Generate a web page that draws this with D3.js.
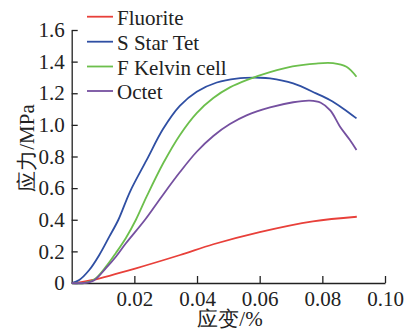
<!DOCTYPE html>
<html>
<head>
<meta charset="utf-8">
<script src="https://cdn.jsdelivr.net/npm/d3@7"></script>
</head>
<body style="margin:0">
<script>
var width = 408
var height = 330
var margin = {left: 71.7, right: 23, top: 30, bottom: 47}

// Data (strain, stress)
var seriesNames = ["Fluorite", "S Star Tet", "F Kelvin cell", "Octet"]
var seriesColors = ["#e8403a", "#2f4fa3", "#6cbf4c", "#7550a0"]

var fluorite = [[0, 0], [0.003, 0.005], [0.0067, 0.019], [0.0205, 0.093], [0.0346, 0.177],
  [0.0452, 0.245], [0.060, 0.322], [0.077, 0.39], [0.091, 0.419]]
var sStarTet = [[0, 0], [0.0024, 0.019], [0.0056, 0.082], [0.0088, 0.177], [0.012, 0.293],
  [0.0149, 0.40], [0.0186, 0.577], [0.0239, 0.777], [0.0292, 0.975], [0.0345, 1.12],
  [0.0399, 1.21], [0.0463, 1.268], [0.0526, 1.293], [0.060, 1.298], [0.0633, 1.294],
  [0.0707, 1.262], [0.078, 1.199], [0.0824, 1.157], [0.0866, 1.104], [0.0909, 1.041]]
var fKelvin = [[0, 0], [0.004, 0.0], [0.0072, 0.022], [0.011, 0.105], [0.0141, 0.19],
  [0.0173, 0.285], [0.0205, 0.40], [0.0239, 0.546], [0.0292, 0.757], [0.0345, 0.935],
  [0.0399, 1.075], [0.0452, 1.17], [0.0505, 1.237], [0.0558, 1.283], [0.0633, 1.333],
  [0.0705, 1.37], [0.078, 1.388], [0.0834, 1.39], [0.0877, 1.367], [0.0909, 1.304]]
var octet = [[0, 0], [0.004, 0], [0.0072, 0.018], [0.011, 0.095], [0.0141, 0.166],
  [0.0173, 0.251], [0.0234, 0.40], [0.0287, 0.546], [0.0345, 0.70], [0.0399, 0.83],
  [0.0452, 0.93], [0.0505, 1.005], [0.0558, 1.06], [0.0633, 1.11], [0.0707, 1.143],
  [0.076, 1.153], [0.0795, 1.14], [0.0826, 1.09], [0.0856, 0.99], [0.0888, 0.904],
  [0.0909, 0.841]]
var seriesData = [fluorite, sStarTet, fKelvin, octet]

var xTicks = [0.02, 0.04, 0.06, 0.08, 0.10]
var yTicks = [0, 0.2, 0.4, 0.6, 0.8, 1.0, 1.2, 1.4, 1.6]

var svg = d3.select("body")
  .append("svg")
  .attr("width", width)
  .attr("height", height)

var x = d3.scaleLinear().domain([0, 0.1]).range([margin.left, width - margin.right])
var y = d3.scaleLinear().domain([0, 1.6]).range([height - margin.bottom, margin.top])

// axes
svg.append("g")
  .attr("transform", "translate(0," + y(0) + ")")
  .call(d3.axisBottom(x).tickValues(xTicks).tickSize(-7).tickSizeOuter(0).tickPadding(8)
    .tickFormat(d3.format(".2f")))

svg.append("g")
  .attr("transform", "translate(" + x(0) + ",0)")
  .call(d3.axisLeft(y).tickValues(yTicks).tickSize(-6).tickSizeOuter(0).tickPadding(7)
    .tickFormat(d => d === 0 ? "0" : d.toFixed(1)))

svg.selectAll(".domain, .tick line").attr("stroke", "#222").attr("stroke-width", 1.3)
svg.selectAll(".tick text")
  .attr("fill", "#222")
  .style("font-family", "'Liberation Serif'")
  .style("font-size", "21px")

// axis titles
svg.append("text")
  .attr("x", 230)
  .attr("y", 326)
  .attr("text-anchor", "middle")
  .attr("fill", "#222")
  .style("font-family", "'Liberation Serif'")
  .style("font-size", "21px")
  .text("应变/%")

svg.append("text")
  .attr("transform", "translate(34,148) rotate(-90)")
  .attr("text-anchor", "middle")
  .attr("fill", "#222")
  .style("font-family", "'Liberation Serif'")
  .style("font-size", "21px")
  .text("应力/MPa")

// lines
var line = d3.line()
  .x(d => x(d[0]))
  .y(d => y(d[1]))
  .curve(d3.curveCatmullRom.alpha(0.5))

seriesData.forEach((data, i) => {
  svg.append("path")
    .datum(data)
    .attr("d", line)
    .attr("fill", "none")
    .attr("stroke", seriesColors[i])
    .attr("stroke-width", 1.8)
})

// legend
var legendY = [16.7, 41.7, 66.5, 91]
seriesNames.forEach((name, i) => {
  svg.append("line")
    .attr("x1", 87).attr("x2", 113)
    .attr("y1", legendY[i]).attr("y2", legendY[i])
    .attr("stroke", seriesColors[i])
    .attr("stroke-width", 1.8)
  svg.append("text")
    .attr("x", 117)
    .attr("y", legendY[i] + 8)
    .attr("fill", "#222")
    .style("font-family", "'Liberation Serif'")
    .style("font-size", "21px")
    .text(name)
})
</script>
</body>
</html>
